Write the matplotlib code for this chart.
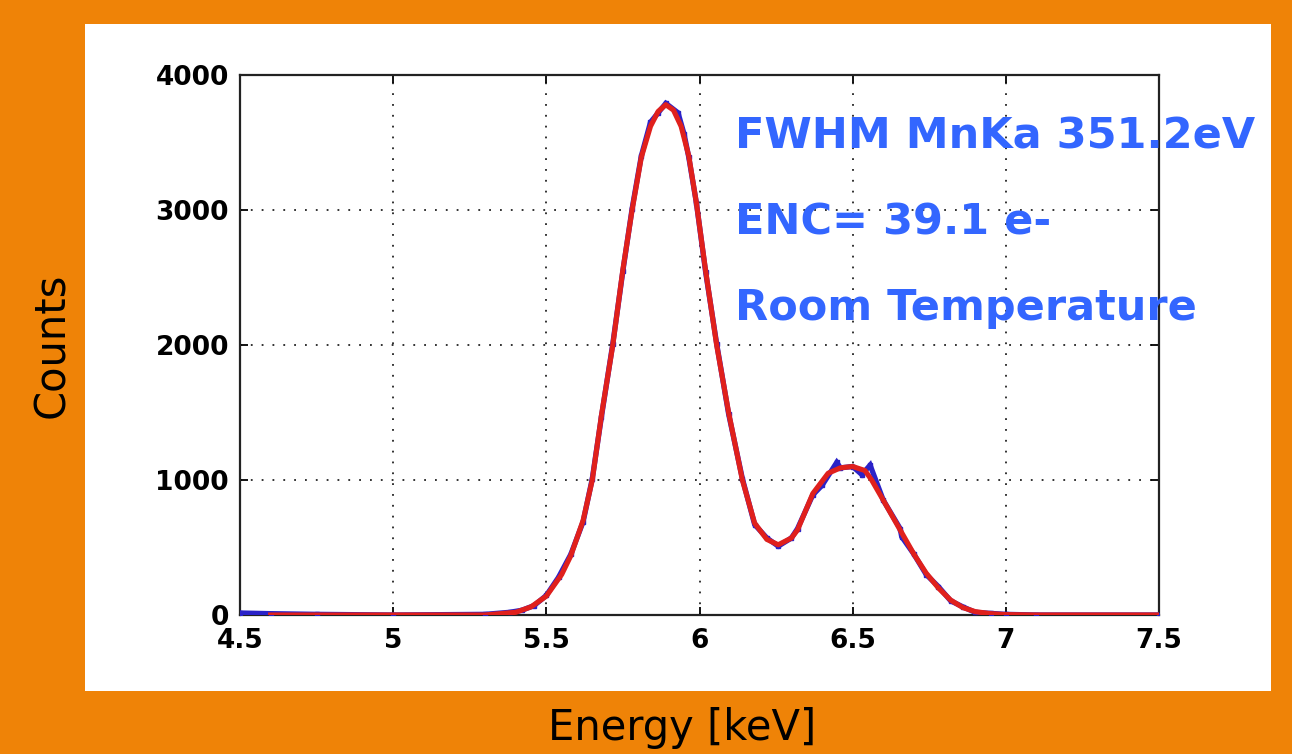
import matplotlib
matplotlib.use("Agg")
import matplotlib.pyplot as plt
from matplotlib.patches import Rectangle

# ---- data ----
data_energy = [4.50, 4.60, 4.75, 5.00, 5.30, 5.38, 5.42, 5.46, 5.50, 5.54, 5.58, 5.62, 5.65,
               5.68, 5.717, 5.75, 5.78, 5.81, 5.84, 5.865, 5.89, 5.93, 5.95, 5.965, 5.99, 6.02,
               6.056, 6.095, 6.14, 6.18, 6.22, 6.257, 6.30, 6.32, 6.37, 6.40, 6.448, 6.46, 6.50,
               6.53, 6.557, 6.60, 6.655, 6.66, 6.70, 6.74, 6.78, 6.82, 6.86, 6.90, 6.95, 7.00,
               7.10, 7.50]
data_counts = [15, 10, 5, 0, 5, 20, 35, 70, 145, 280, 450, 690, 1010,
               1470, 2010, 2550, 3010, 3400, 3650, 3720, 3790, 3720, 3560, 3390, 3050, 2540,
               2010, 1490, 1010, 670, 570, 510, 570, 640, 890, 960, 1130, 1090, 1100,
               1040, 1110, 850, 640, 580, 450, 300, 210, 105, 60, 20, 12, 5,
               0, 0]

fit_energy = [4.60, 5.00, 5.30, 5.40, 5.45, 5.50, 5.55, 5.58, 5.62, 5.65, 5.68, 5.717, 5.75,
              5.78, 5.81, 5.84, 5.865, 5.89, 5.915, 5.94, 5.965, 5.99, 6.02, 6.056, 6.095,
              6.14, 6.18, 6.22, 6.257, 6.30, 6.32, 6.37, 6.42, 6.46, 6.50, 6.54, 6.562, 6.60,
              6.655, 6.70, 6.74, 6.78, 6.82, 6.86, 6.90, 6.95, 7.00, 7.10, 7.50]
fit_counts = [0, 0, 0, 20, 60, 140, 300, 440, 700, 1000, 1480, 2000, 2560,
              3000, 3390, 3620, 3730, 3780, 3740, 3620, 3400, 3050, 2550, 2000, 1500,
              1000, 680, 560, 520, 570, 630, 900, 1050, 1090, 1100, 1070, 1000, 850,
              630, 450, 310, 200, 110, 55, 25, 10, 3, 0, 0]

x_ticks = [4.5, 5.0, 5.5, 6.0, 6.5, 7.0, 7.5]
x_tick_labels = ["4.5", "5", "5.5", "6", "6.5", "7", "7.5"]
y_ticks = [0, 1000, 2000, 3000, 4000]
y_tick_labels = ["0", "1000", "2000", "3000", "4000"]

annotations = ["FWHM MnKa 351.2eV", "ENC= 39.1 e-", "Room Temperature"]
annot_y = [3459, 2815, 2185]

W, H = 1292, 754
fig = plt.figure(figsize=(W / 100, H / 100), dpi=100)
fig.patch.set_facecolor("#EF8307")

# white panel
fig.patches.append(Rectangle((85 / W, 1 - 691 / H), 1186 / W, 667 / H,
                             transform=fig.transFigure, facecolor="white",
                             edgecolor="none", zorder=-10))

ax = fig.add_axes([240 / W, 1 - 615 / H, 919 / W, 540 / H])
ax.set_zorder(5)
ax.set_facecolor("white")

ax.plot(data_energy, data_counts, color="#2a22c8", lw=3.8, marker="s", ms=2.5,
        solid_joinstyle="miter", zorder=3)
ax.plot(fit_energy, fit_counts, color="#e0201c", lw=3.7, zorder=4)

ax.set_xlim(4.5, 7.5)
ax.set_ylim(0, 4000)
ax.set_xticks(x_ticks)
ax.set_xticklabels(x_tick_labels)
ax.set_yticks(y_ticks)
ax.set_yticklabels(y_tick_labels)

ax.grid(True, color="#222222", linestyle=(0, (1, 5)), linewidth=1.3)
ax.tick_params(direction="in", length=6, width=1.3, top=True, right=True,
               labelsize=19, colors="black")
ax.tick_params(axis="x", pad=9)
ax.tick_params(axis="y", pad=8)
for lab in ax.get_xticklabels() + ax.get_yticklabels():
    lab.set_fontweight("bold")
for sp in ax.spines.values():
    sp.set_linewidth(1.6)
    sp.set_color("#222222")

for txt, yy in zip(annotations, annot_y):
    ax.text(6.116, yy, txt, color="#3366FF", fontsize=31, fontweight="bold",
            ha="left", va="baseline", zorder=6, clip_on=False)

fig.text(52 / W, 1 - 345 / H, "Counts", rotation=90, fontsize=30,
         ha="center", va="center", color="black")
fig.text(682 / W, 1 - 740 / H, "Energy [keV]", fontsize=30,
         ha="center", va="baseline", color="black")

fig.savefig("out.png", dpi=100, facecolor=fig.get_facecolor())
